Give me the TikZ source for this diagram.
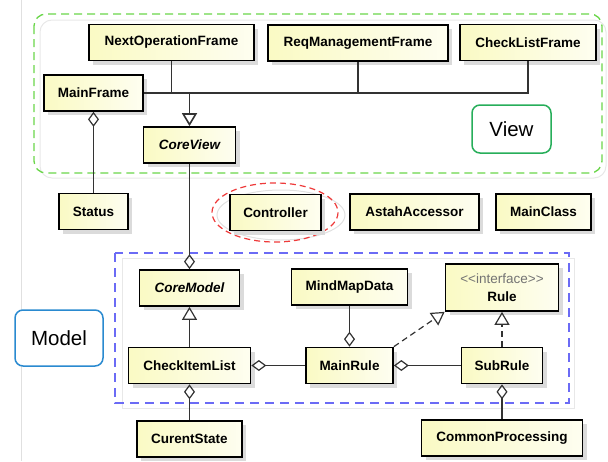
\documentclass[tikz,border=0pt]{standalone}
\usepackage{fontspec}
\setmainfont{Liberation Sans}
\usetikzlibrary{arrows.meta, shadows}

\definecolor{clsyellow}{HTML}{FAFAC4}
\definecolor{viewgreen}{HTML}{6AD64A}
\definecolor{viewtag}{HTML}{27AE5A}
\definecolor{modelblue}{HTML}{6B6BF5}
\definecolor{modeltag}{HTML}{2A8AD0}
\definecolor{ctrlred}{HTML}{EE3A3A}
\definecolor{conn}{HTML}{333333}

\begin{document}
\begin{tikzpicture}[x=1pt, y=-1pt, line width=1.2pt,
    cls/.style = {draw, line width=1.7pt, minimum height=36pt, inner sep=2pt,
        left color=clsyellow, right color=clsyellow!25!white,
        font=\fontsize{13.5}{18}\selectfont\bfseries,
        drop shadow={shadow xshift=4pt, shadow yshift=-4pt, fill=black!14, opacity=1}},
    pkgtag/.style = {draw, fill=white, line width=1.5pt, rounded corners=8pt,
        font=\fontsize{20.5}{24}\selectfont},
    agg/.style = {draw=conn, -{Diamond[open, length=15pt, width=11pt]}},
    gen/.style = {draw=conn, -{Triangle[open, length=13pt, width=15pt]}},
    real/.style = {gen, dash pattern=on 6pt off 4pt}]

\useasboundingbox (0,0) rectangle (608,461);

% Page edge
\draw[black!12, line width=0.8pt] (21,0) -- (21,461);

% View package
\draw[black!9, line width=1pt, rounded corners=12pt] (40,20) rectangle (606,178);
\draw[viewgreen, line width=1.3pt, dash pattern=on 8pt off 5pt, rounded corners=12pt] (34,14) rectangle (602,173);
\node[pkgtag, draw=viewtag, minimum width=79pt, minimum height=48pt] (ViewTag) at (511.5,129) {View};

% Model package
\draw[black!9, line width=1pt] (122,258) rectangle (574,408);
\draw[modelblue, line width=1.2pt, dash pattern=on 9pt off 6pt] (115,253) rectangle (569,403);
\node[pkgtag, draw=modeltag, minimum width=88pt, minimum height=56pt] (ModelTag) at (59,338) {Model};

% Controller
\draw[black!12, line width=1pt] (281,215) ellipse [x radius=64, y radius=25];
\draw[ctrlred, line width=1.2pt, dash pattern=on 6pt off 4pt] (275,212.5) ellipse [x radius=63, y radius=29.5];

% Classes
\node[cls, minimum width=165pt] (NextOperationFrame) at (171.5,42.5) {NextOperationFrame};
\node[cls, minimum width=180pt] (ReqManagementFrame) at (358,43) {ReqManagementFrame};
\node[cls, minimum width=136pt] (CheckListFrame) at (528,42.5) {CheckListFrame};
\node[cls, minimum width=99pt] (MainFrame) at (93.5,93) {MainFrame};
\node[cls, minimum width=92pt] (CoreView) at (189.5,145) {\itshape CoreView};
\node[cls, minimum width=69pt] (Status) at (93.5,211.5) {Status};
\node[cls, minimum width=91pt] (Controller) at (275.5,212.5) {Controller};
\node[cls, minimum width=129pt] (AstahAccessor) at (414.5,212) {AstahAccessor};
\node[cls, minimum width=95pt] (MainClass) at (543.5,212) {MainClass};
\node[cls, minimum width=100pt] (CoreModel) at (189.5,288) {\itshape CoreModel};
\node[cls, minimum width=116pt] (MindMapData) at (349.5,287) {MindMapData};
\node[cls, minimum width=113pt, minimum height=47pt, align=center] (Rule) at (502,287.5)
    {{\mdseries\color{black!55}<{}<interface>{}>}\\Rule};
\node[cls, minimum width=122pt] (CheckItemList) at (189.5,365.5) {CheckItemList};
\node[cls, minimum width=87pt] (MainRule) at (349.5,365.5) {MainRule};
\node[cls, minimum width=81pt] (SubRule) at (502,365.5) {SubRule};
\node[cls, minimum width=105pt] (CurentState) at (189.5,439) {CurentState};
\node[cls, minimum width=161pt] (CommonProcessing) at (502,438) {CommonProcessing};

% View inheritance
\coordinate (join) at (CoreView.north |- MainFrame.east);
\draw[conn] (MainFrame.east) -| (CheckListFrame.south);
\draw[conn] (NextOperationFrame.south) -- (NextOperationFrame.south |- MainFrame.east);
\draw[conn] (ReqManagementFrame.south) -- (ReqManagementFrame.south |- MainFrame.east);
\draw[gen, line width=1.6pt] (join) -- (CoreView.north);
\draw[agg] (Status) -- (MainFrame);
\draw[agg] (CoreView) -- (CoreModel);

% Model relations
\draw[gen] (CheckItemList) -- (CoreModel);
\draw[agg] (CurentState) -- (CheckItemList);
\draw[agg] (MainRule) -- (CheckItemList);
\draw[agg] (MindMapData) -- (MainRule);
\draw[agg] (SubRule) -- (MainRule);
\draw[real] (MainRule.north east) -- (Rule.south west);
\draw[real] (SubRule) -- (Rule);
\draw[agg] (CommonProcessing) -- (SubRule);
\end{tikzpicture}
\end{document}
